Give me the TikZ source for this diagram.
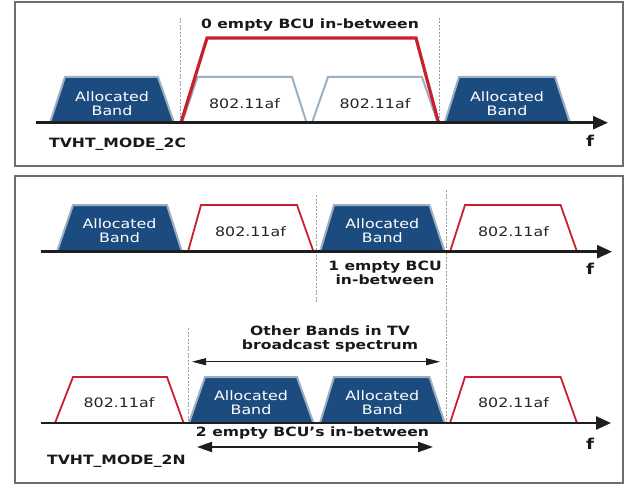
\documentclass[tikz,border=0pt]{standalone}
\usepackage{fontspec}
\setmainfont[FakeStretch=1.22]{DejaVu Sans}
\usetikzlibrary{arrows.meta}
\definecolor{abfill}{HTML}{1B4B7F}
\definecolor{abedge}{HTML}{9DB0C2}
\definecolor{redband}{HTML}{C9202E}
\definecolor{axisc}{HTML}{1E1E1E}
\definecolor{dashc}{HTML}{9A9A9A}
\definecolor{framec}{HTML}{6E6E6E}
\begin{document}
\begin{tikzpicture}[x=1pt,y=-1pt,
  alloc/.style={fill=abfill,draw=abedge,line width=2pt,line join=miter},
  wifi/.style={fill=white,draw=redband,line width=1.8pt,line join=miter},
  wifiin/.style={fill=white,draw=abedge,line width=2pt,line join=miter},
  bigred/.style={draw=redband,line width=3.2pt,line join=miter},
  axisline/.style={draw=axisc,line width=2.6pt,-{Triangle[length=15pt,width=13pt]}},
  sep/.style={draw=dashc,line width=0.6pt,dash pattern=on 2pt off 1.5pt},
  frame/.style={draw=framec,line width=1.3pt},
  bandtxt/.style={text=white,align=center,font=\fontsize{13}{14}\selectfont,inner sep=0pt},
  wifitxt/.style={text=black!85,font=\fontsize{13}{14}\selectfont,inner sep=0pt},
  lbl/.style={font=\bfseries\fontsize{12.8}{14}\selectfont,text=black!90,align=center,inner sep=0pt},
  flbl/.style={font=\bfseries\fontsize{15}{17}\selectfont,text=black!90,inner sep=0pt},
  dimthin/.style={draw=axisc,line width=0.9pt,{Triangle[length=14pt,width=7pt]}-{Triangle[length=14pt,width=7pt]}},
  dimthick/.style={draw=axisc,line width=2pt,{Triangle[length=15pt,width=10pt]}-{Triangle[length=15pt,width=10pt]}},
]
\useasboundingbox (0,0) rectangle (640,487);
\fill[white] (0,0) rectangle (640,487);

% ===== frames =====
\draw[frame] (15,2) rectangle (623,166);
\draw[frame] (15,176) rectangle (623,483);

% ===== panel 1 =====
\draw[sep] (180.3,18) -- (180.3,122.7);
\draw[sep] (438.8,18) -- (438.8,122.7);
\filldraw[alloc] (50,122.7) -- (65,77) -- (158,77) -- (174,122.7);
\filldraw[wifiin] (182,122.7) -- (197.5,77) -- (292,77) -- (306.6,122.7);
\filldraw[wifiin] (312,122.7) -- (328,77) -- (422,77) -- (437.7,122.7);
\filldraw[alloc] (444.7,122.7) -- (459,77) -- (555,77) -- (570,122.7);
\draw[bigred] (181,122.7) -- (207,38) -- (416,38) -- (438.5,122.7);
\coordinate (a1s) at (36,122.7);
\coordinate (a1e) at (608,122.7);
\draw[axisline] (a1s) -- (a1e);
\node[bandtxt] (p1b1) at (112,103.5) {Allocated\\Band};
\node[wifitxt] (p1w1) at (244.5,104) {802.11af};
\node[wifitxt] (p1w2) at (375,104) {802.11af};
\node[bandtxt] (p1b2) at (507,103.5) {Allocated\\Band};
\node[lbl] (p1t) at (310,25) {0 empty BCU in-between};
\node[lbl,anchor=west] (p1m) at (49,144) {TVHT\_MODE\_2C};
\node[flbl] (p1f) at (590,141) {f};

% ===== panel 2, top row =====
\draw[sep] (316.4,195) -- (316.4,303);
\draw[sep] (446.7,190) -- (446.7,423);
\filldraw[alloc] (57,251.7) -- (73,205) -- (167,205) -- (182,251.7);
\filldraw[wifi] (188,251.7) -- (201,205) -- (297,205) -- (313.5,251.7);
\filldraw[alloc] (320,251.7) -- (334,205) -- (429.5,205) -- (444.7,251.7);
\filldraw[wifi] (450,251.7) -- (465,205) -- (560.6,205) -- (577,251.7);
\coordinate (a2s) at (41,251.7);
\coordinate (a2e) at (612,251.7);
\draw[axisline] (a2s) -- (a2e);
\node[bandtxt] (p2b1) at (119.5,231) {Allocated\\Band};
\node[wifitxt] (p2w1) at (250.5,232) {802.11af};
\node[bandtxt] (p2b2) at (382.3,231) {Allocated\\Band};
\node[wifitxt] (p2w2) at (513.5,232) {802.11af};
\node[lbl] (p2t) at (385,273) {1 empty BCU\\in-between};
\node[flbl] (p2f) at (590,269) {f};

% ===== panel 2, bottom row =====
\draw[sep] (188.5,328) -- (188.5,423);
\filldraw[wifi] (55,423) -- (73,377) -- (167,377) -- (183.6,423);
\filldraw[alloc] (189,423) -- (205,377) -- (297,377) -- (313.5,423);
\filldraw[alloc] (320,423) -- (334,377) -- (429.5,377) -- (444.7,423);
\filldraw[wifi] (450,423) -- (465,377) -- (560.6,377) -- (577,423);
\coordinate (a3s) at (41,423);
\coordinate (a3e) at (611,423);
\draw[axisline] (a3s) -- (a3e);
\node[wifitxt] (p3w1) at (119,403) {802.11af};
\node[bandtxt] (p3b1) at (251,402.5) {Allocated\\Band};
\node[bandtxt] (p3b2) at (382.3,402.5) {Allocated\\Band};
\node[wifitxt] (p3w2) at (513.5,403) {802.11af};
\node[lbl] (p3t) at (330,339) {Other Bands in TV\\broadcast spectrum};
\coordinate (d1s) at (192,361.7);
\coordinate (d1e) at (440,361.7);
\draw[dimthin] (d1s) -- (d1e);
\node[lbl] (p3u) at (312.5,433) {2 empty BCU{\char"27}s in-between};
\coordinate (d2s) at (197,447);
\coordinate (d2e) at (433,447);
\draw[dimthick] (d2s) -- (d2e);
\node[lbl,anchor=west] (p3m) at (47,461.7) {TVHT\_MODE\_2N};
\node[flbl] (p3f) at (590,444) {f};
\end{tikzpicture}
\end{document}
